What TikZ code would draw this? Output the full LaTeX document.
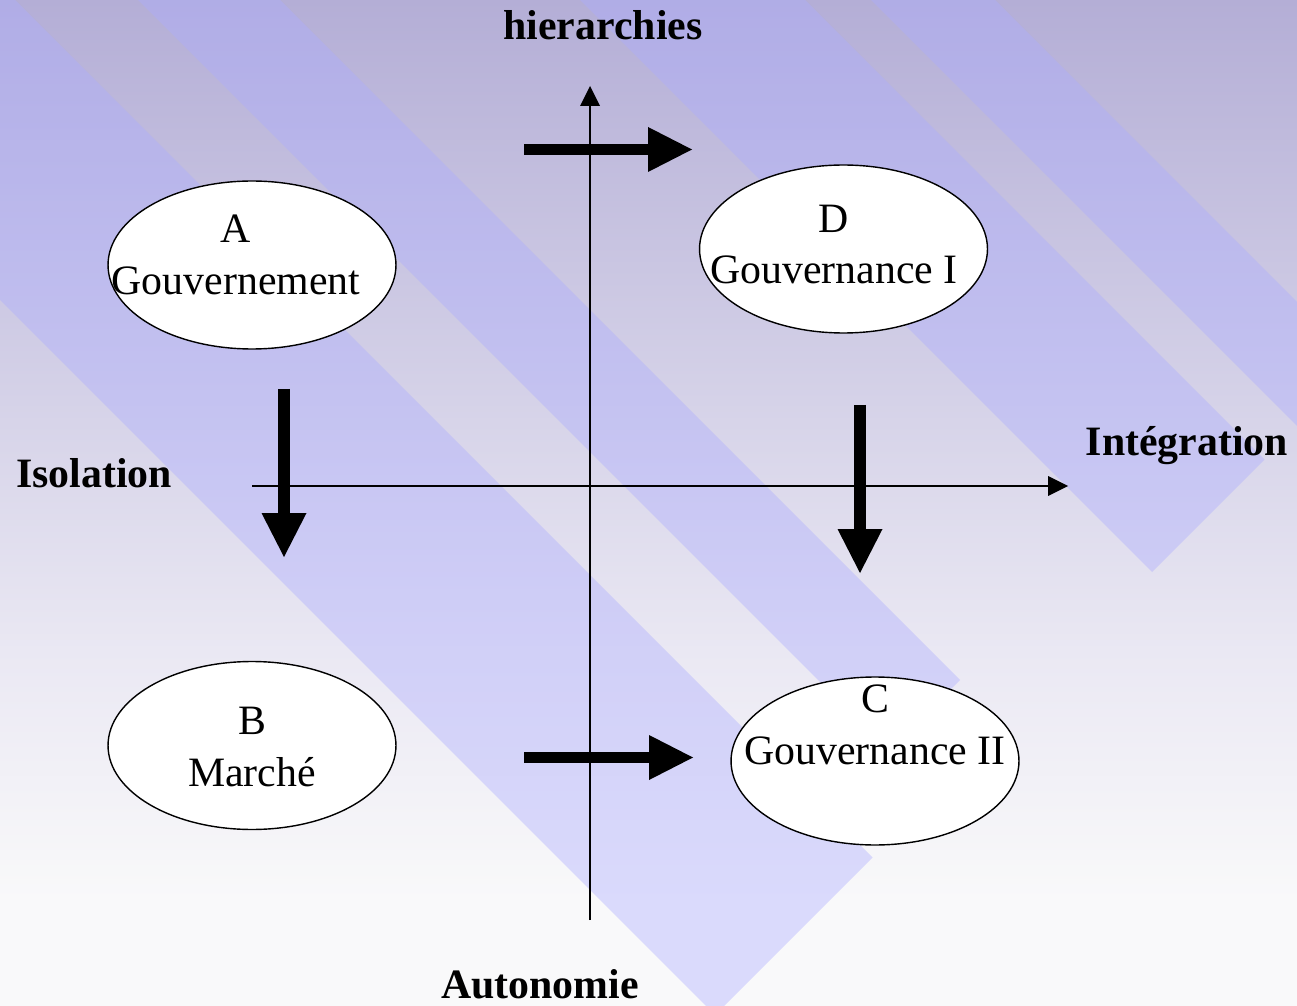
\documentclass[tikz,border=0pt]{standalone}
\usepackage{fontspec}
\setmainfont{Liberation Serif}
\usepackage{tikz}
\usetikzlibrary{shapes,arrows.meta,positioning}

\definecolor{bgtop}{RGB}{180,174,214}
\definecolor{bgmid}{RGB}{213,210,232}
\definecolor{bglow}{RGB}{234,232,243}
\definecolor{bgend}{RGB}{249,249,250}
\definecolor{stripeblue}{RGB}{172,172,255}

\tikzset{
    %Define style for the ellipses
    quadrant/.style={
           ellipse,
           draw=black,
           thick,
           fill=white,
           inner sep=0pt,
           minimum width=5.76cm,
           minimum height=3.36cm},
    %Define style for the text inside the ellipses
    quadtext/.style={
           align=center,
           inner sep=0pt,
           font=\fontsize{23.8}{29.5}\selectfont},
    %Define style for the axis names
    axisname/.style={
           anchor=base,
           inner sep=0pt,
           font=\fontsize{23.8}{29.5}\selectfont\bfseries},
    % Define axis style
    axis/.style={
           -{Triangle[length=0.4cm,width=0.4cm,line width=0pt]},
           line width=0.85pt},
    % Define style for the big arrows
    bigarrow/.style={
           -{Triangle[length=0.88cm,width=0.9cm,line width=0pt]},
           line width=6.8pt},
    % Define style for the background bands
    band/.style={
           fill=stripeblue,
           fill opacity=0.4}
}

\begin{document}
\begin{tikzpicture}[x=0.02cm, y=-0.02cm]
    \useasboundingbox (0,0) rectangle (1297,1006);
    % background
    \shade[top color=bgtop, bottom color=bgmid] (0,0) rectangle (1297,401);
    \shade[top color=bgmid, bottom color=bglow] (0,400) rectangle (1297,651);
    \shade[top color=bglow, bottom color=bgend] (0,650) rectangle (1297,901);
    \fill[bgend] (0,900) rectangle (1297,1006);
    \begin{scope}
        \clip (0,0) rectangle (1297,1006);
        \fill[band] (-300,0) -- (15,0) -- (872.5,857.5) -- (715,1015) -- cycle;
        \fill[band] (138,0) -- (280,0) -- (960,680) -- (889,751) -- cycle;
        \fill[band] (580,0) -- (805,0) -- (1264.5,459.5) -- (1152,572) -- cycle;
        \fill[band] (871,0) -- (995,0) -- (1995,1000) -- (1871,1000) -- cycle;
    \end{scope}

    % axes
    \coordinate (vert bottom) at (590,920);
    \coordinate (vert top) at (590,86);
    \coordinate (horiz left) at (252,486);
    \coordinate (horiz right) at (1068,486);
    \path (vert bottom) edge[axis] (vert top);
    \path (horiz left) edge[axis] (horiz right);

    \node[axisname] (hier) at (603,40) {hierarchies};
    \node[axisname] (integ) at (1187,455) {Intégration};
    \node[axisname] (isol) at (94,487) {Isolation};
    \node[axisname] (auto) at (540,998) {Autonomie};

    % big arrows
    \coordinate (top start) at (524,149.5);
    \coordinate (top end) at (692,149.5);
    \coordinate (low start) at (524,757.5);
    \coordinate (low end) at (693,757.5);
    \coordinate (left start) at (284,389);
    \coordinate (left end) at (284,557);
    \coordinate (right start) at (860,405);
    \coordinate (right end) at (860,573);
    \path (top start) edge[bigarrow] (top end);
    \path (low start) edge[bigarrow] (low end);
    \path (left start) edge[bigarrow] (left end);
    \path (right start) edge[bigarrow] (right end);

    % quadrants
    \node[quadrant] (A) at (252,265) {};
    \node[quadrant] (D) at (843.5,249) {};
    \node[quadrant] (B) at (252,745.5) {};
    \node[quadrant] (C) at (875,761) {};
    \node[quadtext] (A text) at (236,254.5) {A\\Gouvernement};
    \node[quadtext] (D text) at (834,244.5) {D\\Gouvernance I};
    \node[quadtext] (B text) at (252,747) {B\\Marché};
    \node[quadtext] (C text) at (875,724.5) {C\\Gouvernance II};
\end{tikzpicture}
\end{document}
